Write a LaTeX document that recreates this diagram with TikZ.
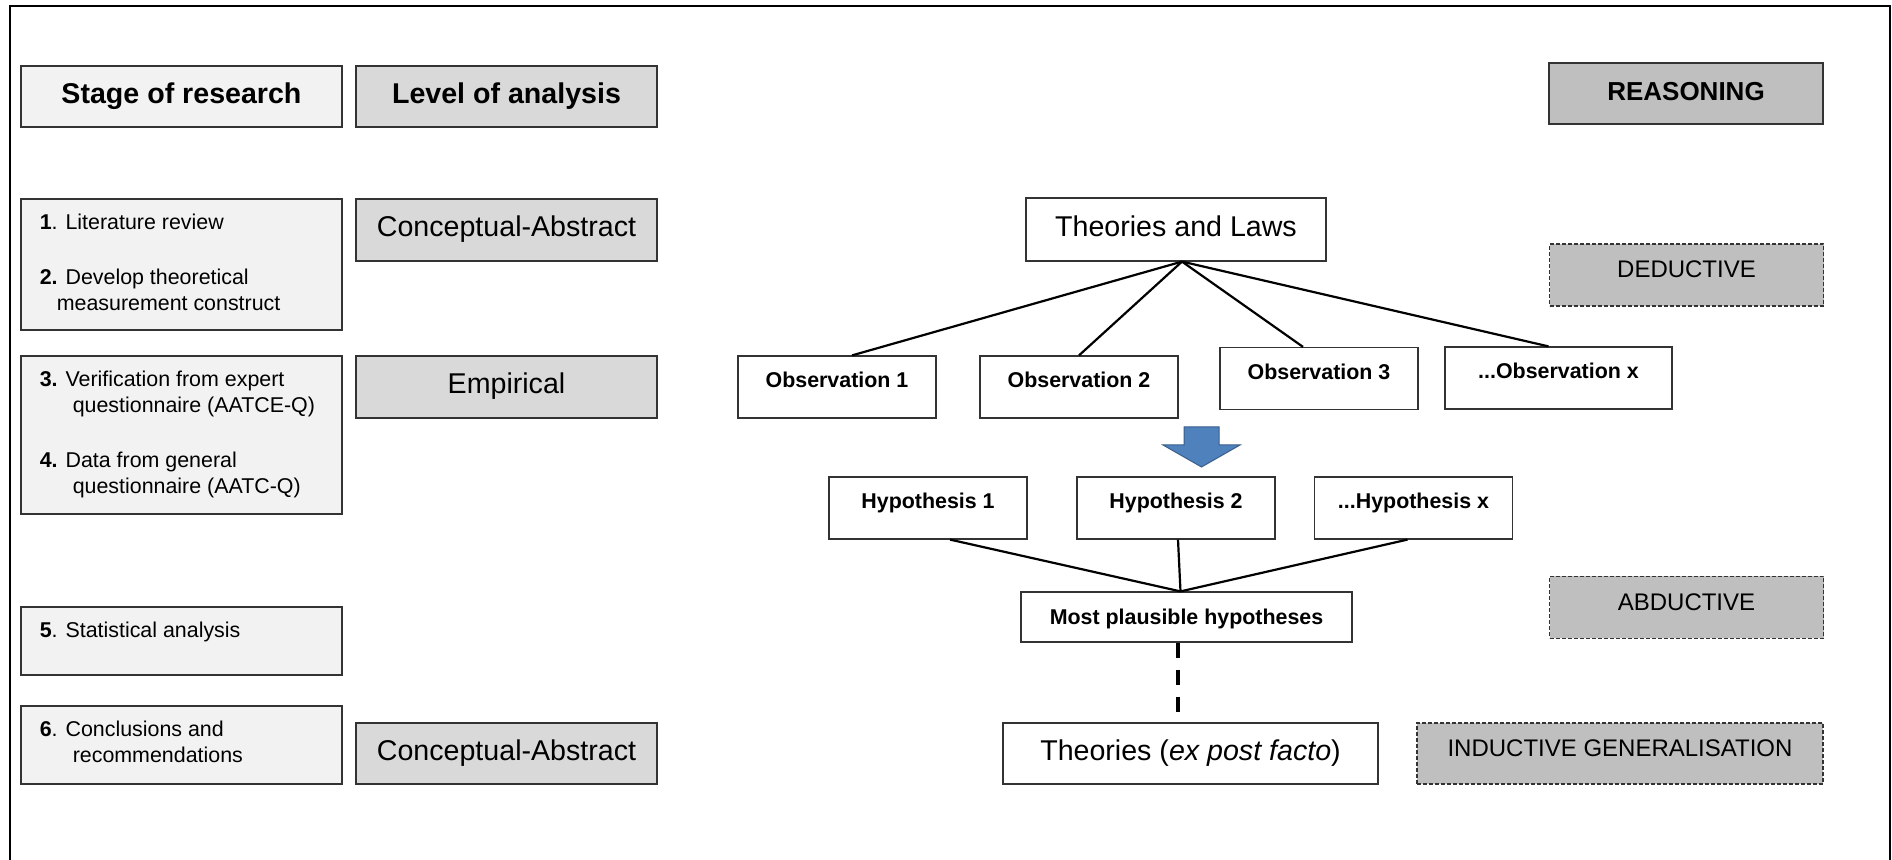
\documentclass[tikz,border=0pt]{standalone}
\usepackage{fontspec}
\setmainfont{Liberation Sans}
\usepackage{tikz}
\usetikzlibrary{positioning}

\definecolor{arrowblue}{HTML}{4F81BD}
\definecolor{arrowedge}{HTML}{385D8A}

\newcommand{\bigfont}{\fontsize{14.3}{17}\selectfont}
\newcommand{\smallfont}{\fontsize{10.7}{13}\selectfont}
\newcommand{\midfont}{\fontsize{12}{14}\selectfont}
\newcommand{\firstline}{\rule{0pt}{10pt}}
\newcommand{\threedots}{...}

\begin{document}
\begin{tikzpicture}[x=0.5pt, y=-0.5pt]
    \tikzstyle{plainbox}=[rectangle, draw=black!80, line width=0.6pt, inner sep=0pt]
    \tikzstyle{stagebox}=[plainbox, fill=black!5, minimum width=160.5pt]
    \tikzstyle{stagetext}=[inner sep=0pt, align=left, font=\smallfont]
    \tikzstyle{levelbox}=[plainbox, fill=black!15, minimum width=150.5pt, minimum height=31pt, font=\bigfont, text height=10.5pt, text depth=3.5pt]
    \tikzstyle{treebox}=[plainbox, fill=white, minimum width=99pt, minimum height=31pt, font=\smallfont\bfseries, text height=8pt, text depth=7pt]
    \tikzstyle{theorybox}=[plainbox, fill=white, font=\bigfont, text height=10.5pt, text depth=3.5pt]
    \tikzstyle{reasonhead}=[plainbox, fill=black!25, minimum width=137pt, minimum height=30.5pt, font=\fontsize{13}{15}\selectfont\bfseries, text height=9.5pt, text depth=2pt]
    \tikzstyle{reasonbox}=[plainbox, fill=black!25, minimum width=137pt, minimum height=31pt, font=\midfont, text height=8.6pt, text depth=5.6pt, dash pattern=on 2pt off 1pt]
    \tikzstyle{treelink}=[line width=1.1pt]

    \useasboundingbox (0,0) rectangle (1892,860);
    \draw[line width=1.2pt] (10,860) -- (10,6) -- (1890,6) -- (1890,860);

% Headers
    \node[stagebox, minimum height=30.5pt, font=\bigfont\bfseries, text height=10.5pt, text depth=3.5pt] (hstage) at (181.5,96.5) {Stage of research};
    \node[levelbox, minimum height=30.5pt, font=\bigfont\bfseries] (hlevel) at (506.5,96.5) {Level of analysis};
    \node[reasonhead] (reason) at (1686,93.5) {REASONING};

% Stage of research
    \node[stagebox, minimum height=65.5pt] (st1) at (181.5,264.5) {};
    \node[stagebox, minimum height=79pt] (st2) at (181.5,435) {};
    \node[stagebox, minimum height=34pt] (st3) at (181.5,641) {};
    \node[stagebox, minimum height=39pt] (st4) at (181.5,745) {};

    \node[stagetext, below right=5.5pt and 9.5pt of st1.north west] (st1t)
        {\firstline\textbf{1}. Literature review\\[14.5pt]
         \textbf{2.} Develop theoretical\\
         \hspace{8.5pt}measurement construct};
    \node[stagetext, below right=5.5pt and 9.5pt of st2.north west] (st2t)
        {\firstline\textbf{3.} Verification from expert\\
         \hspace{16.5pt}questionnaire (AATCE-Q)\\[14.5pt]
         \textbf{4.} Data from general\\
         \hspace{16.5pt}questionnaire (AATC-Q)};
    \node[stagetext, below right=5.5pt and 9.5pt of st3.north west] (st3t)
        {\firstline\textbf{5}. Statistical analysis};
    \node[stagetext, below right=5.5pt and 9.5pt of st4.north west] (st4t)
        {\firstline\textbf{6}. Conclusions and\\
         \hspace{16.5pt}recommendations};

% Level of analysis
    \node[levelbox] (lv1) at (506.5,230) {Conceptual-Abstract};
    \node[levelbox] (lv2) at (506.5,387) {Empirical};
    \node[levelbox, minimum height=30.5pt] (lv3) at (506.5,753.5) {Conceptual-Abstract};

% Theories and observations
    \node[theorybox, minimum width=150pt, minimum height=31.5pt] (theo) at (1176,229.5) {Theories and Laws};
    \foreach \name/\x/\y/\w/\txt in {obs1/837/387/99/Observation 1, obs2/1079/387/99/Observation 2,
            obs3/1319/378.5/99/Observation 3, obsx/1558.5/378/113.5/\threedots Observation x}
        \node[treebox, minimum width=\w pt] (\name) at (\x,\y) {\txt};

    % block arrow
    \filldraw[fill=arrowblue, draw=arrowedge, line width=0.5pt]
        (1184,427) -- (1219,427) -- (1219,445) -- (1240,445) -- (1201.5,467) -- (1163,445) -- (1184,445) -- cycle;

% Hypotheses
    \foreach \name/\x/\txt in {hyp1/928/Hypothesis 1, hyp2/1176/Hypothesis 2, hypx/1413.5/\threedots Hypothesis x}
        \node[treebox] (\name) at (\x,508) {\txt};
    \node[treebox, minimum width=165.5pt, minimum height=25pt, text depth=0pt] (mph) at (1186.5,617) {Most plausible hypotheses};
    \node[theorybox, minimum width=187.5pt, minimum height=30.5pt] (theo2) at (1190.5,753.5) {Theories (\textit{ex post facto})};

% Reasoning
    \node[reasonbox] (ded) at (1686.5,275) {DEDUCTIVE};
    \node[reasonbox] (abd) at (1686.5,607.5) {ABDUCTIVE};
    \node[reasonbox, minimum width=203pt, minimum height=30.5pt] (ind) at (1620,753.5) {INDUCTIVE GENERALISATION};

% Paths
    \coordinate (apex) at ([xshift=3pt]theo.south);
    \foreach \name/\s in {obs1/7.5, obs2/0, obs3/-8, obsx/-5}
        \draw[treelink] (apex) -- ([xshift=\s pt]\name.north);

    \coordinate (meet) at ([xshift=-3pt]mph.north);
    \foreach \name/\s in {hyp1/11, hyp2/1, hypx/-3}
        \draw[treelink] ([xshift=\s pt]\name.south) -- (meet);

    \draw[line width=2pt, dash pattern=on 7.5pt off 6pt, shorten >=5pt]
        ([xshift=-4.25pt]mph.south) -- ([xshift=-6.25pt]theo2.north);

\end{tikzpicture}
\end{document}
